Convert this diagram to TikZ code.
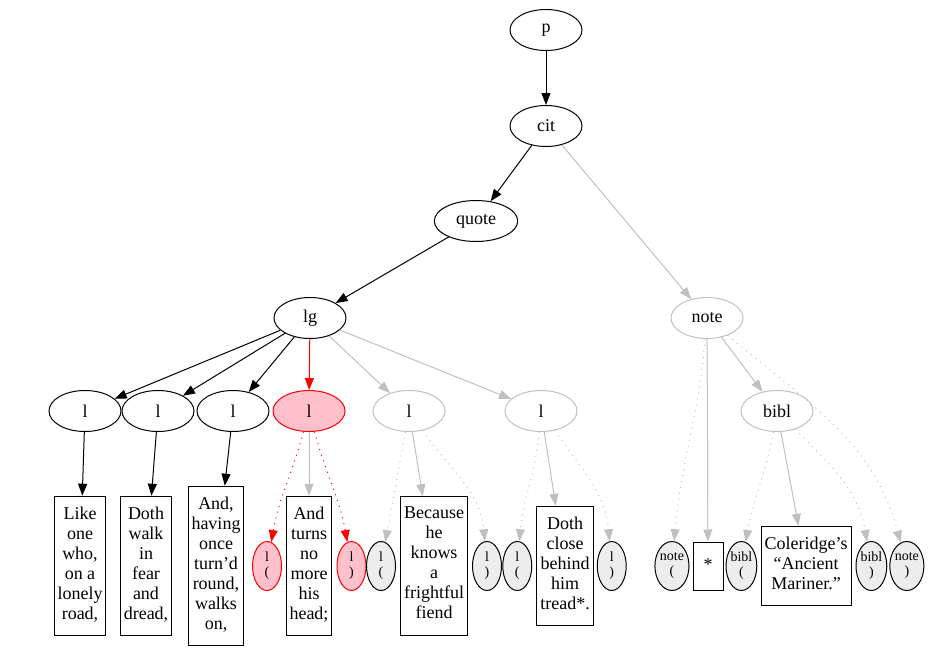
\documentclass[tikz,border=0pt]{standalone}
\usepackage{fontspec}
\setmainfont{Liberation Serif}
\usetikzlibrary{positioning,shapes.geometric,arrows.meta}
\definecolor{edgegrey}{RGB}{192,192,192}
\definecolor{hilite}{RGB}{255,192,203}
\definecolor{milefill}{RGB}{237,237,237}

\begin{document}
\begin{tikzpicture}[x=1pt,y=-1pt,
  elem/.style={ellipse,draw,line width=1pt,minimum width=72pt,minimum height=41pt,inner xsep=9.5pt,font=\fontsize{18}{20}\selectfont},
  txt/.style={rectangle,draw,line width=1pt,align=center,inner xsep=3.5pt,inner ysep=10.5pt,minimum width=30pt,minimum height=48pt,font=\fontsize{18}{20}\selectfont,execute at begin node=\strut,execute at end node=\strut},
  mile/.style={ellipse,draw,line width=1pt,fill=milefill,inner sep=0pt,minimum width=29pt,minimum height=49pt,align=center,font=\fontsize{14}{15}\selectfont},
  faded/.style={draw=edgegrey},
  hot/.style={draw=red,fill=hilite},
  link/.style={-{Triangle[length=12pt,width=9pt]},line width=1pt},
  dotlink/.style={link,dash pattern=on 1pt off 5pt}]

\useasboundingbox (0,0) rectangle (945,653);

\node (p) [elem] at (546,30) {p};
\node (cit) [elem] at (546,126) {cit};
\node (quote) [elem] at (476,221) {quote};
\node (lg) [elem] at (310,318) {lg};
\node (note) [elem,faded] at (707,318) {note};

\node (l1) [elem] at (85,411) {l};
\node (l2) [elem] at (158,411) {l};
\node (l3) [elem] at (233,411) {l};
\node (l4) [elem,hot] at (309,411) {l};
\node (l5) [elem,faded] at (409,411) {l};
\node (l6) [elem,faded] at (541,411) {l};
\node (bibl) [elem,faded] at (777,411) {bibl};

\node (t1) [txt] at (80,566) {Like\\one\\who,\\on a\\lonely\\road,};
\node (t2) [txt] at (146,566) {Doth\\walk\\in\\fear\\and\\dread,};
\node (t3) [txt] at (216,566) {And,\\having\\once\\turn’d\\round,\\walks\\on,};
\node (t4) [txt] at (309,566) {And\\turns\\no\\more\\his\\head;};
\node (t5) [txt] at (434,566) {Because\\he\\knows\\a\\frightful\\fiend};
\node (t6) [txt] at (565,566) {Doth\\close\\behind\\him\\tread*.};
\node (star) [txt] at (708,566) {*};
\node (cole) [txt] at (806,566) {Coleridge’s\\“Ancient\\Mariner.”};

\node (lo4) [mile,hot,left=3.5pt of t4] {l\\(};
\node (lc4) [mile,hot,right=4pt of t4] {l\\)};
\node (lo5) [mile,left=4pt of t5] {l\\(};
\node (lc5) [mile,right=4pt of t5] {l\\)};
\node (lo6) [mile,left=4pt of t6] {l\\(};
\node (lc6) [mile,right=3pt of t6] {l\\)};
\node (no) [mile,left=3pt of star] {note\\(};
\node (bo) [mile,right=2pt of star] {bibl\\(};
\node (bc) [mile,right=4pt of cole] {bibl\\)};
\node (nc) [mile,right=2pt of bc] {note\\)};

\draw [link] (p) -- (cit);
\draw [link] (cit) -- (quote);
\draw [link,edgegrey] (cit) -- (note);
\draw [link] (quote) -- (lg);
\draw [link] (lg) -- (l1);
\draw [link] (lg) -- (l2);
\draw [link] (lg) -- (l3);
\draw [link,red] (lg) -- (l4);
\draw [link,edgegrey] (lg) -- (l5);
\draw [link,edgegrey] (lg) -- (l6);

\draw [link] (l1) -- (t1);
\draw [link] (l2) -- (t2);
\draw [link] (l3) -- (t3);
\draw [dotlink,red] (l4) to[out=-105,in=80] (lo4);
\draw [link,edgegrey] (l4) -- (t4);
\draw [dotlink,red] (l4) to[out=-75,in=100] (lc4);
\draw [dotlink,edgegrey] (l5) to[out=-100,in=80] (lo5);
\draw [link,edgegrey] (l5) -- (t5);
\draw [dotlink,edgegrey] (l5) to[out=-55,in=95] (lc5);
\draw [dotlink,edgegrey] (l6) to[out=-95,in=85] (lo6);
\draw [link,edgegrey] (l6) -- (t6);
\draw [dotlink,edgegrey] (l6) to[out=-55,in=95] (lc6);

\draw [dotlink,edgegrey] (note) to[out=-95,in=85] (no);
\draw [link,edgegrey] (note) -- (star);
\draw [link,edgegrey] (note) -- (bibl);
\draw [dotlink,edgegrey] (note) to[out=-40,in=105] (nc);
\draw [dotlink,edgegrey] (bibl) to[out=-100,in=80] (bo);
\draw [link,edgegrey] (bibl) -- (cole);
\draw [dotlink,edgegrey] (bibl) to[out=-45,in=100] (bc);
\end{tikzpicture}
\end{document}
